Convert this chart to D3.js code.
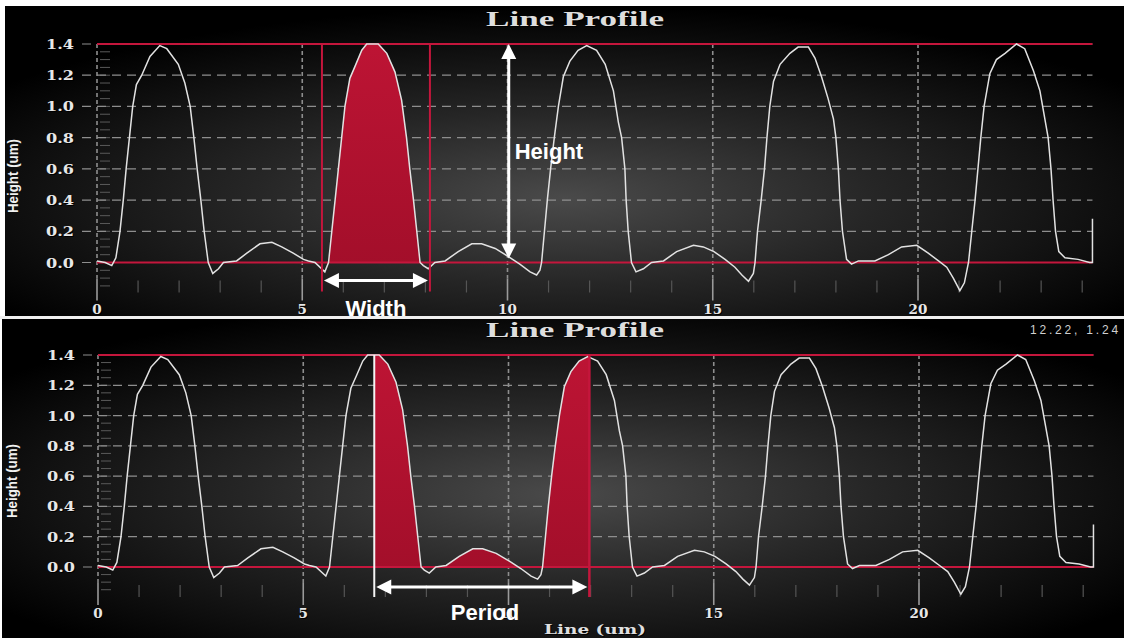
<!DOCTYPE html>
<html><head><meta charset="utf-8">
<script src="https://cdn.jsdelivr.net/npm/d3@7"></script>
<style>
html,body{margin:0;padding:0;background:#fff;overflow:hidden}
svg{display:block}
</style></head><body>
<svg id="c" width="1124" height="638"></svg>
<script>
// ---- data ----
const profileX = [0.00,0.20,0.36,0.46,0.56,0.64,0.71,0.79,0.87,0.96,1.09,1.29,1.53,1.70,1.98,2.14,2.27,2.36,2.44,2.53,2.61,2.71,2.82,2.96,3.08,3.40,3.65,3.97,4.26,4.50,4.78,5.03,5.15,5.31,5.55,5.64,5.72,5.80,5.88,5.96,6.04,6.16,6.29,6.45,6.57,6.85,7.06,7.26,7.42,7.54,7.62,7.71,7.79,7.87,7.95,8.07,8.23,8.48,8.80,9.13,9.37,9.70,10.04,10.30,10.55,10.71,10.79,10.83,10.90,10.97,11.05,11.14,11.24,11.36,11.52,11.72,11.93,12.17,12.38,12.58,12.70,12.78,12.86,12.89,12.94,13.02,13.13,13.31,13.51,13.80,14.12,14.53,14.77,15.03,15.30,15.54,15.71,15.87,15.99,16.03,16.09,16.18,16.26,16.32,16.39,16.48,16.64,16.88,17.08,17.33,17.49,17.65,17.81,17.94,18.00,18.06,18.10,18.16,18.26,18.38,18.55,18.95,19.28,19.60,19.97,20.25,20.50,20.70,20.86,21.02,21.13,21.23,21.31,21.39,21.46,21.53,21.61,21.75,21.91,22.12,22.40,22.60,22.81,22.97,23.09,23.17,23.24,23.29,23.35,23.43,23.58,23.90,24.18,24.25,24.25];
const profileH = [0.01,0.00,-0.02,0.03,0.20,0.40,0.60,0.80,1.00,1.14,1.20,1.32,1.39,1.37,1.27,1.15,1.00,0.80,0.60,0.40,0.20,0.00,-0.07,-0.04,0.00,0.01,0.06,0.12,0.13,0.10,0.06,0.02,0.01,0.00,-0.06,0.00,0.20,0.40,0.60,0.80,1.00,1.18,1.26,1.36,1.40,1.40,1.34,1.22,1.04,0.80,0.60,0.40,0.20,0.00,-0.02,-0.04,0.00,0.01,0.07,0.12,0.12,0.09,0.035,-0.01,-0.06,-0.08,-0.05,0.00,0.20,0.40,0.60,0.80,1.00,1.19,1.29,1.36,1.39,1.36,1.27,1.10,0.90,0.80,0.60,0.40,0.20,0.00,-0.06,-0.04,0.00,0.01,0.07,0.11,0.10,0.07,0.02,-0.03,-0.08,-0.12,-0.07,0.00,0.20,0.40,0.60,0.80,1.00,1.16,1.27,1.34,1.38,1.38,1.31,1.19,1.05,0.92,0.80,0.60,0.40,0.20,0.02,-0.01,0.01,0.01,0.05,0.10,0.11,0.06,0.01,-0.03,-0.10,-0.18,-0.13,0.00,0.20,0.40,0.60,0.80,1.00,1.21,1.30,1.34,1.40,1.37,1.23,1.10,0.92,0.80,0.60,0.40,0.20,0.07,0.03,0.02,0.00,0.00,0.28];
const yTicks = [0.0,0.2,0.4,0.6,0.8,1.0,1.2,1.4];
const yTickLabels = ["0.0","0.2","0.4","0.6","0.8","1.0","1.2","1.4"];
const xTicks = [0,5,10,15,20];
const xTickLabels = ["0","5","10","15","20"];
const xMinorTicks = [1,2,3,4,6,7,8,9,11,12,13,14,16,17,18,19,21,22,23,24];
const yMinorTicks = [-0.15,-0.1,-0.05,0,0.05,0.1,0.15,0.2,0.25,0.3,0.35,0.4,0.45,0.5,0.55,0.6,0.65,0.7,0.75,0.8,0.85,0.9,0.95,1.0,1.05,1.1,1.15,1.2,1.25,1.3,1.35,1.4];
const levelLines = [0.0, 1.4];
const widthMarks = [5.48, 8.11];
const periodMarks = [6.73, 11.97];
const heightArrowX = 10.03;
const xEnd = 24.25;
const titleText = "Line Profile";
const yTitle = "Height (um)";
const xTitle = "Line (um)";
const cursorText = "12.22, 1.24";

const data = profileX.map((x,i)=>({x, h: profileH[i]}));
const svg = d3.select("#c");
const defs = svg.append("defs");

const RED = "#c4163c";

function panelDefs(id, cx, cy){
  const g = defs.append("radialGradient").attr("id", id)
    .attr("cx", cx).attr("cy", cy).attr("r", "0.62")
    .attr("gradientUnits","objectBoundingBox");
  g.append("stop").attr("offset","0").attr("stop-color","#4a4a4a");
  g.append("stop").attr("offset","0.45").attr("stop-color","#262626");
  g.append("stop").attr("offset","1").attr("stop-color","#000");
}
panelDefs("bg1","0.5","0.62");
panelDefs("bg2","0.5","0.55");
const fg = defs.append("linearGradient").attr("id","fillg").attr("x1","0").attr("y1","0").attr("x2","0").attr("y2","1");
fg.append("stop").attr("offset","0").attr("stop-color","#bd1434");
fg.append("stop").attr("offset","1").attr("stop-color","#a00e29");

const arrowHead = (tip, dir) => {
  const L = 15, W = 7.5;
  const bx = tip[0]-dir[0]*L, by = tip[1]-dir[1]*L;
  const px = -dir[1], py = dir[0];
  return `M${tip[0]},${tip[1]}L${bx+px*W},${by+py*W}L${bx-px*W},${by-py*W}Z`;
};
function drawArrow(g, a, b){
  const dx=b[0]-a[0], dy=b[1]-a[1], len=Math.hypot(dx,dy);
  const u=[dx/len,dy/len];
  g.append("line").attr("x1",a[0]+u[0]*10).attr("y1",a[1]+u[1]*10)
    .attr("x2",b[0]-u[0]*10).attr("y2",b[1]-u[1]*10)
    .attr("stroke","#fff").attr("stroke-width",3);
  g.append("path").attr("d",arrowHead(b,u)).attr("fill","#fff");
  g.append("path").attr("d",arrowHead(a,[-u[0],-u[1]])).attr("fill","#fff");
}

function panel(cfg){
  const g = svg.append("g");
  g.append("rect").attr("x",cfg.left).attr("y",cfg.top).attr("width",cfg.w).attr("height",cfg.h)
    .attr("fill",`url(#${cfg.bg})`);
  const x = d3.scaleLinear().domain([0,20]).range([cfg.x0,cfg.x20]);
  const y = d3.scaleLinear().domain([0,1.4]).range([cfg.y0,cfg.y14]);
  const y0 = y(0);

  g.selectAll(".ym").data(yMinorTicks).join("line")
    .attr("x1",x(0)+3).attr("x2",x(0)+13).attr("y1",d=>y(d)).attr("y2",d=>y(d))
    .attr("stroke","#5a5a5a").attr("stroke-width",1);
  g.selectAll(".xm").data(xMinorTicks).join("line")
    .attr("x1",d=>x(d)).attr("x2",d=>x(d)).attr("y1",y0+18).attr("y2",y0+30)
    .attr("stroke","#555").attr("stroke-width",1.2);
  g.selectAll(".hg").data(yTicks).join("line")
    .attr("x1",x(0)-15).attr("x2",x(xEnd)).attr("y1",d=>y(d)).attr("y2",d=>y(d))
    .attr("stroke","#8e8e8e").attr("stroke-width",1.2).attr("stroke-dasharray","9,6");
  g.selectAll(".vg").data(xTicks).join("line")
    .attr("x1",d=>x(d)).attr("x2",d=>x(d)).attr("y1",y(1.4)).attr("y2",y0+16)
    .attr("stroke","#8e8e8e").attr("stroke-width",1.6).attr("stroke-dasharray","4,3");
  g.selectAll(".vt").data(xTicks).join("line")
    .attr("x1",d=>x(d)).attr("x2",d=>x(d)).attr("y1",y0+16).attr("y2",y0+38)
    .attr("stroke","#9a9a9a").attr("stroke-width",1.6);

  const clipId = cfg.bg+"clip";
  defs.append("clipPath").attr("id",clipId).append("rect")
    .attr("x",x(cfg.fill[0])).attr("width",x(cfg.fill[1])-x(cfg.fill[0]))
    .attr("y",y(1.5)).attr("height",y0-y(1.5));
  const area = d3.area().x(d=>x(d.x)).y0(y0).y1(d=>y(d.h));
  g.append("path").datum(data.slice(0,-1)).attr("d",area)
    .attr("fill","url(#fillg)").attr("clip-path",`url(#${clipId})`);

  g.selectAll(".lv").data(levelLines).join("line")
    .attr("x1",x(0)).attr("x2",x(xEnd)).attr("y1",d=>y(d)).attr("y2",d=>y(d))
    .attr("stroke",RED).attr("stroke-width",2);

  const line = d3.line().x(d=>x(d.x)).y(d=>y(d.h));
  g.append("path").datum(data).attr("d",line).attr("fill","none")
    .attr("stroke","#e2e2e2").attr("stroke-width",1.5);

  const lblStyle = s => s.attr("font-family","'DejaVu Serif', serif").attr("font-weight","bold")
    .attr("font-size",13.5);
  g.selectAll(".ylsh").data(yTicks).join("text").call(lblStyle)
    .attr("x",x(0)-22).attr("y",d=>y(d)+6).attr("text-anchor","end").attr("fill","#000")
    .attr("textLength",28).attr("lengthAdjust","spacingAndGlyphs")
    .text((d,i)=>yTickLabels[i]);
  g.selectAll(".yl").data(yTicks).join("text").call(lblStyle)
    .attr("x",x(0)-23).attr("y",d=>y(d)+5).attr("text-anchor","end").attr("fill","#e8e8e8")
    .attr("textLength",28).attr("lengthAdjust","spacingAndGlyphs")
    .text((d,i)=>yTickLabels[i]);
  g.selectAll(".xlsh").data(xTicks).join("text").call(lblStyle)
    .attr("x",d=>x(d)+1).attr("y",y0+52).attr("text-anchor","middle").attr("fill","#000")
    .text((d,i)=>xTickLabels[i]);
  g.selectAll(".xl").data(xTicks).join("text").call(lblStyle)
    .attr("x",d=>x(d)).attr("y",y0+51).attr("text-anchor","middle").attr("fill","#e8e8e8")
    .text((d,i)=>xTickLabels[i]);

  [["#000",1,1],["#dedede",0,0]].forEach(([c,dx,dy])=>{
    g.append("text").attr("x",575+dx).attr("y",cfg.titleY+dy).attr("text-anchor","middle")
      .attr("font-family","'Liberation Serif','Times New Roman',serif").attr("font-weight","bold")
      .attr("font-size",20).attr("textLength",178).attr("lengthAdjust","spacingAndGlyphs")
      .attr("fill",c).text(titleText);
  });
  g.append("text").attr("transform",`translate(${cfg.yTitleX},${cfg.yTitleY}) rotate(-90)`)
    .attr("text-anchor","middle").attr("font-family","'Liberation Sans Narrow','Arial Narrow',sans-serif")
    .attr("font-weight","bold").attr("font-size",15).attr("textLength",74).attr("lengthAdjust","spacingAndGlyphs")
    .attr("fill","#f0f0f0").text(yTitle);

  return {g,x,y,y0};
}

const P1 = panel({left:5,top:6,w:1119,h:310,bg:"bg1",x0:97,x20:918,y0:262.5,y14:44,
  fill:widthMarks,titleY:26,yTitleX:18,yTitleY:176});
const P2 = panel({left:2,top:319,w:1122,h:319,bg:"bg2",x0:98,x20:919,y0:567,y14:355,
  fill:periodMarks,titleY:337,yTitleX:17,yTitleY:481});

svg.append("rect").attr("x",0).attr("y",316).attr("width",1124).attr("height",3).attr("fill","#f0f0f0");

{
  const {g,x,y,y0} = P1;
  g.selectAll(".wm").data(widthMarks).join("line")
    .attr("x1",d=>x(d)).attr("x2",d=>x(d)).attr("y1",y(1.4)).attr("y2",y0+29)
    .attr("stroke",RED).attr("stroke-width",2);
  drawArrow(g,[x(heightArrowX),y(1.4)],[x(heightArrowX),y(0)-4]);
  drawArrow(g,[x(widthMarks[0])+2,y0+18],[x(widthMarks[1])-2,y0+18]);
  g.append("text").attr("x",x(heightArrowX)+6).attr("y",y(0.66)).attr("font-family","'Liberation Sans',Arial,sans-serif")
    .attr("font-weight","bold").attr("font-size",22).attr("fill","#fff").text("Height");
  g.append("text").attr("x",(x(widthMarks[0])+x(widthMarks[1]))/2).attr("y",y0+53)
    .attr("text-anchor","middle").attr("font-family","'Liberation Sans',Arial,sans-serif")
    .attr("font-weight","bold").attr("font-size",22).attr("fill","#fff").text("Width");
}
{
  const {g,x,y,y0} = P2;
  g.append("line").attr("x1",x(periodMarks[0])).attr("x2",x(periodMarks[0])).attr("y1",y(1.4)).attr("y2",y0+30)
    .attr("stroke","#f4f4f4").attr("stroke-width",2);
  g.append("line").attr("x1",x(periodMarks[1])).attr("x2",x(periodMarks[1])).attr("y1",y(1.4)).attr("y2",y0+30)
    .attr("stroke",RED).attr("stroke-width",2.5);
  drawArrow(g,[x(periodMarks[0])+2,y0+20],[x(periodMarks[1])-2,y0+20]);
  g.append("text").attr("x",485).attr("y",y0+53)
    .attr("text-anchor","middle").attr("font-family","'Liberation Sans',Arial,sans-serif")
    .attr("font-weight","bold").attr("font-size",22).attr("fill","#fff").text("Period");
  [["#000",1,1],["#e0e0e0",0,0]].forEach(([c,dx,dy])=>{
    g.append("text").attr("x",595+dx).attr("y",634+dy).attr("text-anchor","middle")
      .attr("font-family","'DejaVu Serif',serif").attr("font-weight","bold").attr("font-size",13.5)
      .attr("textLength",102).attr("lengthAdjust","spacingAndGlyphs").attr("fill",c).text(xTitle);
  });
  g.append("text").attr("x",1030).attr("y",334).attr("font-family","'Liberation Sans',Arial,sans-serif")
    .attr("font-size",12).attr("letter-spacing",2.8).attr("fill","#d0d0d0").text(cursorText);
}
</script>
</body></html>
